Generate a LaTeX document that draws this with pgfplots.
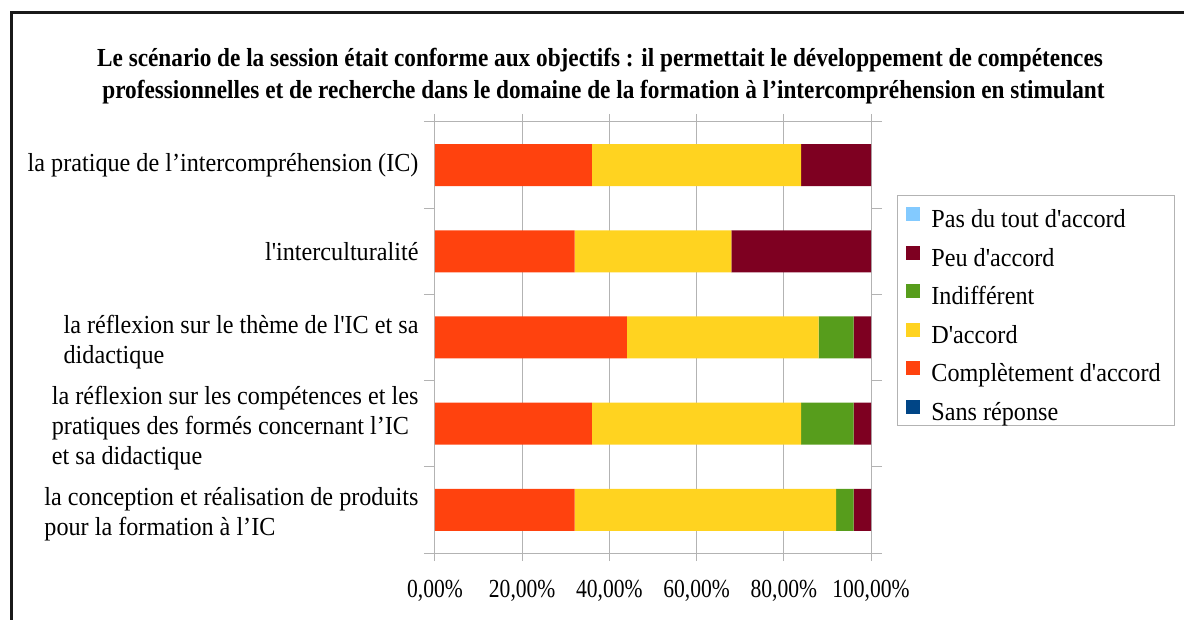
\documentclass[border=0pt]{standalone}
\usepackage{pgfplots}
\pgfplotsset{compat=1.18}
\usepackage{fontspec}
\setmainfont{Liberation Serif}[FakeStretch=0.93, Ligatures=TeXOff]
\newfontfamily\titlefont{Liberation Serif}[FakeStretch=0.894, Ligatures=TeXOff]
\newfontfamily\tickfont{Liberation Serif}[FakeStretch=0.83, Ligatures=TeXOff]
\definecolor{cPas}{HTML}{83CAFF}
\definecolor{cPeu}{HTML}{7E0021}
\definecolor{cInd}{HTML}{579D1C}
\definecolor{cDac}{HTML}{FFD320}
\definecolor{cCom}{HTML}{FF420E}
\definecolor{cSans}{HTML}{004586}
\definecolor{axgray}{HTML}{B3B3B3}
\newcommand{\mlabel}[1]{\raisebox{0pt}[\dimexpr\height+10pt\relax][\depth]{\begin{tabular}{@{}l@{}}#1\end{tabular}}}
\begin{document}
\begin{tikzpicture}[x=1pt,y=1pt]
\useasboundingbox (0,0) rectangle (1184,619);
\draw[line width=2.6pt, black!90] (11.4,-5) -- (11.4,606.5) -- (1190,606.5);
\node[anchor=base, font=\fontsize{26}{31}\selectfont\titlefont\bfseries] at (600,552) {Le scénario de la session était conforme aux objectifs : il permettait le développement de compétences};
\node[anchor=base, font=\fontsize{26}{31}\selectfont\titlefont\bfseries] at (603.5,520) {professionnelles et de recherche dans le domaine de la formation à l’intercompréhension en stimulant};
\begin{axis}[
  at={(435pt,66pt)}, anchor=south west, scale only axis,
  width=436pt, height=431pt,
  xbar stacked, bar width=42pt,
  xmin=0, xmax=100, ymin=0.5, ymax=5.5,
  xtick={0,20,40,60,80,100},
  xticklabels={{0,00\%},{20,00\%},{40,00\%},{60,00\%},{80,00\%},{100,00\%}},
  xmajorgrids, grid style={axgray, line width=1pt},
  ytick={1,2,3,4,5},
  yticklabels={{\mlabel{la conception et réalisation de produits\\pour la formation à l’IC}},
               {\mlabel{la réflexion sur les compétences et les\\pratiques des formés concernant l’IC\\et sa didactique}},
               {\mlabel{la réflexion sur le thème de l'IC et sa\\didactique}},
               {l'interculturalité},
               {la pratique de l’intercompréhension (IC)}},
  minor ytick={0.5,1.5,2.5,3.5,4.5,5.5},
  major y tick style={draw=none},
  tick align=outside, major tick length=8pt, minor tick length=11pt,
  tick style={axgray, line width=1pt},
  axis line style={axgray, line width=1pt},
  ticklabel style={font=\fontsize{26}{30}\selectfont, text=black},
  yticklabel style={align=left, xshift=-5pt},
  xticklabel style={yshift=-16pt, font=\fontsize{26}{30}\selectfont\tickfont},
  reverse legend,
  legend style={at={(1.0596,0.8306)}, anchor=north west, draw=axgray, line width=0.8pt,
    font=\fontsize{26}{30}\selectfont, row sep=7.6pt, inner xsep=9pt, inner ysep=3pt,
    nodes={text height=27pt, text depth=0pt, inner ysep=2pt, inner xsep=4.5pt}},
  legend cell align=left,
  legend image code/.code={\fill[#1] (0pt,-7pt) rectangle (14pt,7pt);},
  legend style={/tikz/every odd column/.append style={column sep=6.5pt}},
]
\addplot[fill=cSans, draw=none] coordinates {(0,1) (0,2) (0,3) (0,4) (0,5)};
\addplot[fill=cCom, draw=none] coordinates {(32,1) (36,2) (44,3) (32,4) (36,5)};
\addplot[fill=cDac, draw=none] coordinates {(60,1) (48,2) (44,3) (36,4) (48,5)};
\addplot[fill=cInd, draw=none] coordinates {(4,1) (12,2) (8,3) (0,4) (0,5)};
\addplot[fill=cPeu, draw=none] coordinates {(4,1) (4,2) (4,3) (32,4) (16,5)};
\addplot[fill=cPas, draw=none] coordinates {(0,1) (0,2) (0,3) (0,4) (0,5)};
\legend{Sans réponse, Complètement d'accord, D'accord, Indifférent, Peu d'accord, Pas du tout d'accord}
\end{axis}
\end{tikzpicture}
\end{document}
